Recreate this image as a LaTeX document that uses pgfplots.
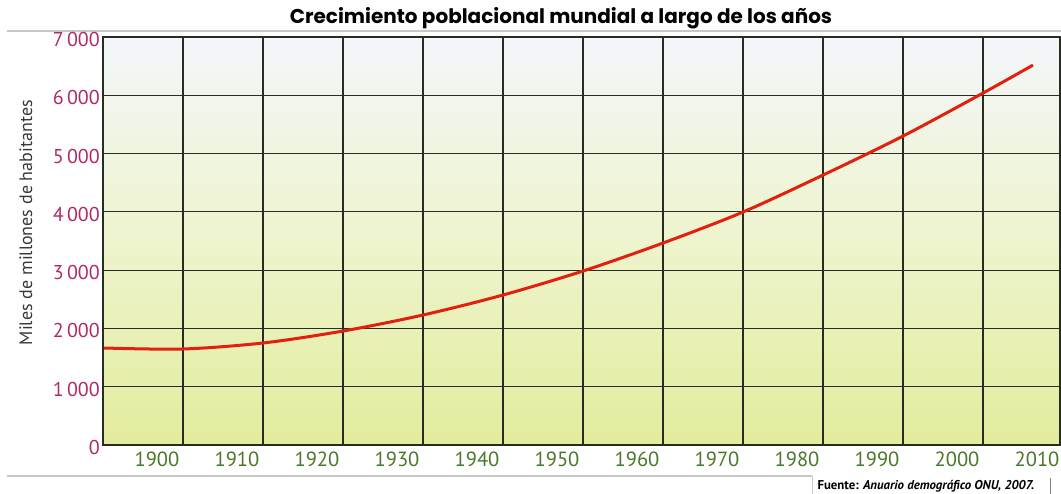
\documentclass[border=0pt]{standalone}
\usepackage{fontspec}
\setmainfont{PT Sans}
\newfontfamily\titlefont{Poppins}
\usepackage{pgfplots}
\pgfplotsset{compat=1.18}

\definecolor{ytk}{RGB}{176,42,104}
\definecolor{xtk}{RGB}{72,120,40}
\definecolor{curve}{RGB}{226,32,16}
\definecolor{gridc}{RGB}{40,45,35}
\definecolor{bgtop}{RGB}{243,246,250}
\definecolor{bgmid}{RGB}{238,244,205}
\definecolor{bgbot}{RGB}{227,236,156}
\definecolor{frame}{RGB}{200,200,200}

\begin{document}
\begin{tikzpicture}
\path[use as bounding box] (-103pt,-49pt) rectangle (958pt,445pt);
% page rules
\draw[frame, line width=2pt] (-96pt,414pt) -- (958pt,414pt);
\draw[frame, line width=2pt] (-96pt,-31pt) -- (709pt,-31pt);
\draw[frame, line width=0.8pt] (709pt,-31pt) -- (709pt,-49pt);
\draw[gray, line width=0.8pt] (947pt,-33pt) -- (947pt,-49pt);

\begin{axis}[
  scale only axis, width=957pt, height=408pt,
  at={(0,0)}, anchor=south west,
  xmin=1893.25, xmax=2012.875, ymin=0, ymax=7000,
  xtick={1900,1910,1920,1930,1940,1950,1960,1970,1980,1990,2000,2010},
  xticklabels={1900,1910,1920,1930,1940,1950,1960,1970,1980,1990,2000,2010},
  minor xtick={1903.25,1913.25,1923.25,1933.25,1943.25,1953.25,1963.25,1973.25,1983.25,1993.25,2003.25},
  ytick={0,1000,2000,3000,4000,5000,6000,7000},
  yticklabels={0,1\,000,2\,000,3\,000,4\,000,5\,000,6\,000,7\,000},
  major tick length=0pt, minor tick length=0pt,
  xminorgrids=true, ymajorgrids=true,
  grid style={gridc, line width=1.1pt},
  minor grid style={gridc, line width=1.1pt},
  axis line style={gridc, line width=1.3pt},
  axis background/.style={shade, top color=bgtop, bottom color=bgbot, middle color=bgmid},
  x tick label style={font=\fontsize{20.5}{20.5}\selectfont, text=xtk, yshift=-3pt},
  y tick label style={font=\fontsize{20}{20}\selectfont, text=ytk, inner sep=1pt, xshift=-2pt, yshift=-2.5pt},
  ylabel={Miles de millones de habitantes},
  every axis y label/.append style={at={(axis description cs:-0.0805,0.545)}, anchor=center,
    font=\fontsize{18}{18}\selectfont, text=black!78},
]
\addplot[curve, line width=3pt, smooth] coordinates {
  (1893.4,1664) (1903.25,1647) (1913.25,1750) (1923.25,1955) (1933.25,2230)
  (1943.25,2573) (1953.25,2985) (1963.25,3465) (1973.25,3997) (1983.25,4631)
  (1993.25,5300) (2003.25,6038) (2009.5,6518)
};
\end{axis}

\node at (458pt,427pt) {\titlefont\bfseries\fontsize{20}{20}\selectfont Crecimiento poblacional mundial a largo de los años};
\node[anchor=west] at (711pt,-41pt) {\bfseries\fontsize{12.8}{13}\selectfont Fuente: \itshape Anuario demográfico ONU, 2007.};
\end{tikzpicture}
\end{document}
